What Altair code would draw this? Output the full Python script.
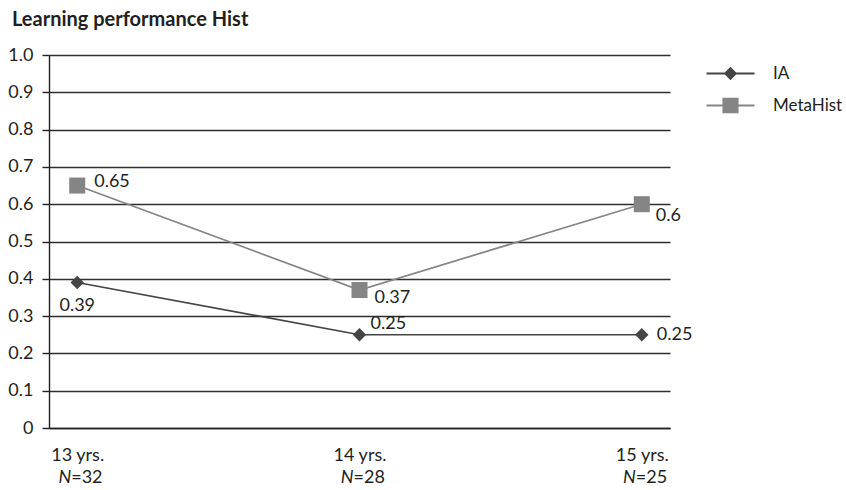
import altair as alt
import pandas as pd

# Age groups (x categories) and their sample sizes
ages = ["13 yrs.", "14 yrs.", "15 yrs."]
sample_sizes = ["=32", "=28", "=25"]

# Learning performance of each condition per age group
series_names = ["IA", "MetaHist"]
ia_scores = [0.39, 0.25, 0.25]
metahist_scores = [0.65, 0.37, 0.6]

# Y axis tick values
y_ticks = [0.0, 0.1, 0.2, 0.3, 0.4, 0.5, 0.6, 0.7, 0.8, 0.9, 1.0]

rows = []
for name, values in zip(series_names, [ia_scores, metahist_scores]):
    for age, value in zip(ages, values):
        rows.append({"series": name, "age": age, "score": value, "label": str(value)})
scores = pd.DataFrame(rows)
groups = pd.DataFrame({"age": ages, "n": sample_sizes})

W, H = 621, 373
FONT = "Lato"
INK = "#231f20"
IA_COLOR = "#454545"
MH_COLOR = "#858585"

# Legend keys: a short line segment with the series marker in the middle
IA_KEY = "M-3.43,-0.14H3.43V0.14H-3.43Z M0,-0.95L0.95,0L0,0.95L-0.95,0Z"
MH_KEY = "M-3.43,-0.14H3.43V0.14H-3.43Z M-1.15,-1.1H1.15V1.1H-1.15Z"

x_enc = alt.X(
    "age:N",
    sort=ages,
    scale=alt.Scale(type="point", domain=ages, padding=0.1),
    axis=alt.Axis(
        title=None,
        labelAngle=0,
        labelFont=FONT,
        labelFontSize=18,
        labelColor=INK,
        labelBaseline="alphabetic",
        labelPadding=32,
        ticks=False,
        grid=False,
        domainColor=INK,
        domainWidth=1.4,
    ),
)
y_enc = alt.Y(
    "score:Q",
    scale=alt.Scale(domain=[0, 1], nice=False),
    axis=alt.Axis(
        title=None,
        values=y_ticks,
        labelExpr="datum.value == 0 ? '0' : format(datum.value, '.1f')",
        labelFont=FONT,
        labelFontSize=18,
        labelColor=INK,
        labelPadding=9,
        tickSize=7,
        tickColor=INK,
        tickWidth=1.4,
        domainColor=INK,
        domainWidth=1.4,
        grid=True,
        gridColor="#2e2e2e",
        gridWidth=1.4,
    ),
)

base = alt.Chart(scores)


def series_line(name, color):
    return base.transform_filter(alt.datum.series == name).mark_line(
        strokeWidth=1.7, color=color
    ).encode(x=x_enc, y=y_enc)


ia_line = series_line("IA", IA_COLOR)
mh_line = series_line("MetaHist", MH_COLOR)

ia_points = base.transform_filter(alt.datum.series == "IA").mark_point(
    shape="diamond", filled=True, size=180, opacity=1, color=IA_COLOR
).encode(x=x_enc, y=y_enc)

mh_points = base.transform_filter(alt.datum.series == "MetaHist").mark_point(
    shape="square", filled=True, size=256, opacity=1, color=MH_COLOR
).encode(x=x_enc, y=y_enc)


def value_label(series, age, dx, dy, align="left"):
    return base.transform_filter(
        (alt.datum.series == series) & (alt.datum.age == age)
    ).mark_text(
        align=align, baseline="middle", dx=dx, dy=dy,
        font=FONT, fontSize=18, color=INK,
    ).encode(x=x_enc, y=y_enc, text="label:N")


labels = [
    value_label("MetaHist", "13 yrs.", 17, -4),
    value_label("MetaHist", "14 yrs.", 15, 8),
    value_label("MetaHist", "15 yrs.", 14, 12),
    value_label("IA", "13 yrs.", 0, 23, align="center"),
    value_label("IA", "14 yrs.", 11, -11),
    value_label("IA", "15 yrs.", 15, 0),
]

# Invisible layer whose legend shows each series as line + marker
legend_layer = base.mark_point(filled=True, opacity=0).encode(
    x=x_enc,
    y=y_enc,
    fill=alt.Fill(
        "series:N",
        scale=alt.Scale(domain=series_names, range=[IA_COLOR, MH_COLOR]),
        legend=alt.Legend(title=None, symbolOpacity=1),
    ),
    shape=alt.Shape(
        "series:N",
        scale=alt.Scale(domain=series_names, range=[IA_KEY, MH_KEY]),
        legend=alt.Legend(title=None, symbolOpacity=1),
    ),
)

# Second line of the x labels: italic "N" followed by the sample size
n_letter = alt.Chart(groups).mark_text(
    align="right", baseline="alphabetic", dx=-6,
    font=FONT, fontSize=18, fontStyle="italic", color=INK,
).encode(x=x_enc, y=alt.value(H + 55), text=alt.value("N"))

n_value = alt.Chart(groups).mark_text(
    align="left", baseline="alphabetic", dx=-6,
    font=FONT, fontSize=18, color=INK,
).encode(x=x_enc, y=alt.value(H + 55), text="n:N")

chart = alt.layer(
    ia_line, mh_line, ia_points, mh_points, *labels, legend_layer, n_letter, n_value
).properties(
    width=W,
    height=H,
    autosize=alt.AutoSizeParams(type="none"),
    padding={"left": 49, "top": 55, "right": 846 - 49 - W, "bottom": 490 - 55 - H},
    title=alt.TitleParams(
        "Learning performance Hist",
        anchor="start",
        frame="group",
        font=FONT,
        fontSize=20,
        fontWeight="bold",
        color=INK,
        dx=-37,
        offset=16,
    ),
).configure_view(
    stroke=None
).configure_legend(
    orient="none",
    legendX=673,
    legendY=10,
    padding=0,
    symbolSize=196,
    symbolOpacity=1,
    labelFont=FONT,
    labelFontSize=17,
    labelColor=INK,
    labelOffset=34,
    rowPadding=10,
)

chart.save("out.html", embed_options={"renderer": "svg", "actions": False})
